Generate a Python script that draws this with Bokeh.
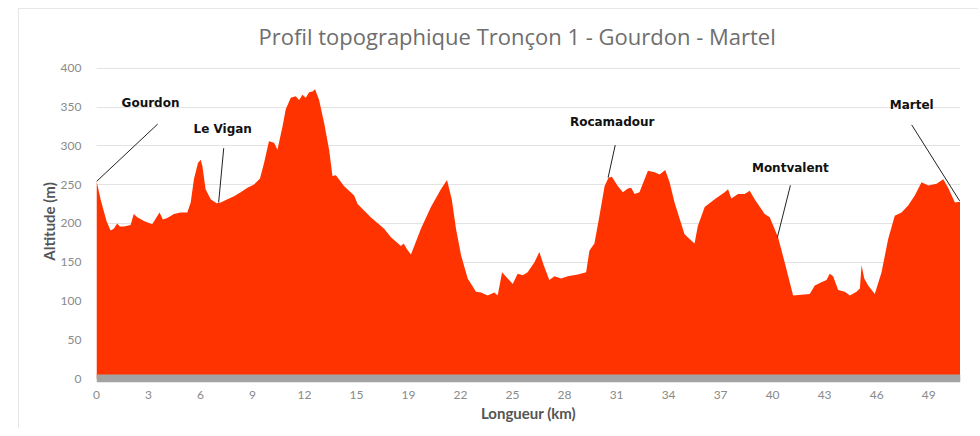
from bokeh.plotting import figure
from bokeh.models import ColumnDataSource, FixedTicker, Range1d, Span, LabelSet, Title
from bokeh.core.properties import value
from bokeh.embed import file_html
from bokeh.resources import INLINE

# ---- data -------------------------------------------------------------
distance_km = [0.00, 0.24, 0.59, 0.83, 1.02, 1.22, 1.38, 1.61, 2.01, 2.20, 2.41, 2.80, 3.29, 3.72,
               3.92, 4.18, 4.57, 4.97, 5.36, 5.56, 5.75, 5.99, 6.15, 6.25, 6.44, 6.74, 7.09, 7.33,
               7.73, 8.12, 8.51, 8.91, 9.30, 9.65, 9.89, 10.18, 10.48, 10.68, 10.98, 11.17, 11.47,
               11.76, 11.96, 12.16, 12.35, 12.55, 12.75, 12.90, 13.14, 13.44, 13.73, 13.93, 14.13,
               14.62, 15.21, 15.41, 16.19, 16.98, 17.38, 17.97, 18.13, 18.32, 18.56, 19.15, 19.74,
               20.33, 20.69, 20.97, 21.22, 21.52, 21.91, 22.40, 22.70, 23.09, 23.48, 23.68, 23.94,
               24.27, 24.57, 24.86, 25.16, 25.45, 25.85, 26.14, 26.40, 26.73, 27.03, 27.43, 27.82,
               28.41, 28.90, 29.10, 29.39, 29.69, 29.99, 30.22, 30.42, 30.78, 31.07, 31.37, 31.56,
               31.76, 32.05, 32.55, 32.94, 33.24, 33.57, 33.83, 34.12, 34.71, 35.30, 35.50, 35.90,
               36.49, 37.08, 37.28, 37.47, 37.87, 38.26, 38.56, 38.85, 39.44, 39.74, 40.23, 40.62,
               41.12, 41.61, 42.10, 42.40, 42.79, 43.09, 43.28, 43.48, 43.78, 44.17, 44.47, 44.86,
               45.06, 45.16, 45.32, 45.55, 45.94, 46.34, 46.73, 47.12, 47.52, 47.91, 48.30, 48.70,
               49.10, 49.59, 49.98, 50.27, 50.67, 50.97]
altitude_m = [255, 231, 203, 191, 193, 200, 196, 196, 198, 212, 208, 203, 199, 214,
              205, 207, 212, 214, 214, 227, 257, 278, 282, 274, 244, 231, 226, 227,
              231, 235, 240, 246, 250, 258, 278, 306, 304, 295, 325, 347, 362,
              364, 359, 366, 362, 369, 370, 373, 359, 329, 295, 261, 262,
              248, 236, 225, 208, 193, 182, 171, 174, 167, 160, 193, 221,
              244, 256, 231, 193, 159, 129, 112, 111, 107, 111, 107, 137,
              129, 122, 135, 133, 137, 150, 163, 146, 127, 132, 129, 132,
              134, 137, 165, 174, 210, 248, 259, 260, 248, 240, 245, 246,
              238, 240, 268, 266, 263, 269, 253, 227, 186, 174, 197, 221,
              231, 240, 244, 232, 238, 238, 242, 231, 212, 208, 182, 150,
              107, 108, 109, 120, 124, 127, 135, 132, 114, 112, 107, 112,
              116, 146, 129, 120, 109, 137, 180, 210, 214, 223, 236, 253,
              249, 251, 257, 246, 227, 228]

tick_step_km = 3.07
x_tick_labels = ["0", "3", "6", "9", "12", "15", "19", "22", "25", "28", "31",
                 "34", "37", "40", "43", "46", "49"]
y_ticks = [0, 50, 100, 150, 200, 250, 300, 350, 400]

place_names = ["Gourdon", "Le Vigan", "Rocamadour", "Montvalent", "Martel"]
place_label_x = [3.19, 7.45, 30.44, 40.96, 48.12]
place_label_y = [355, 322, 331, 272, 353]
leader_x0 = [0.00, 7.51, 30.62, 40.96, 48.12]
leader_y0 = [254, 297, 301, 249, 327]
leader_x1 = [3.61, 7.21, 30.20, 40.19, 50.95]
leader_y1 = [328, 227, 259, 182, 229]

# ---- figure -----------------------------------------------------------
p = figure(width=960, height=420, output_backend="svg", toolbar_location=None,
           x_range=Range1d(0, 51.0), y_range=Range1d(-5.1, 410),
           min_border_left=77, min_border_right=19, min_border_top=48, min_border_bottom=47,
           background_fill_color="white", border_fill_color="white", outline_line_color=None)
p.margin = (8, 0, 0, 18)
p.styles = {"border-top": "1px solid #e6e6e6", "border-left": "1px solid #e6e6e6"}

p.title = Title(text="Profil topographique Tronçon 1 - Gourdon - Martel", align="left",
                offset=162, text_font="Open Sans", text_font_size="22px",
                text_font_style="normal", text_color="#6e6e6e", standoff=19)

src = ColumnDataSource(dict(x=distance_km, y=altitude_m))
p.varea(x="x", y1=0, y2="y", source=src, fill_color="#ff3300", fill_alpha=1.0)

p.add_layout(Span(location=0, dimension="width", line_color="#a3a3a3", line_width=8))

# leaders & labels
lsrc = ColumnDataSource(dict(x0=leader_x0, y0=leader_y0, x1=leader_x1, y1=leader_y1))
p.segment(x0="x0", y0="y0", x1="x1", y1="y1", source=lsrc, line_color="#222222", line_width=1)

nsrc = ColumnDataSource(dict(x=place_label_x, y=place_label_y, t=place_names))
p.add_layout(LabelSet(x="x", y="y", text="t", source=nsrc, text_align="center",
                      text_baseline="middle", text_font=value("DejaVu Sans"),
                      text_font_style="bold", text_font_size="12px", text_color="#111111"))

# axes
p.xaxis.ticker = FixedTicker(ticks=[i * tick_step_km for i in range(len(x_tick_labels))])
p.xaxis.major_label_overrides = {i * tick_step_km: lab for i, lab in enumerate(x_tick_labels)}
p.yaxis.ticker = FixedTicker(ticks=y_ticks)

for ax in (p.xaxis[0], p.yaxis[0]):
    ax.axis_line_color = None
    ax.major_tick_line_color = None
    ax.minor_tick_line_color = None
    ax.major_label_text_font = "Lato"
    ax.major_label_text_font_size = "12px"
    ax.major_label_text_color = "#8a8a8a"
    ax.axis_label_text_font = "Lato"
    ax.axis_label_text_font_style = "bold"
    ax.axis_label_text_font_size = "15px"
    ax.axis_label_text_color = "#555555"

p.xaxis.axis_label = "Longueur (km)"
p.yaxis.axis_label = "Altitude (m)"
p.xaxis.major_label_standoff = 2
p.xaxis.axis_label_standoff = 2
p.yaxis.major_label_standoff = 9
p.yaxis.axis_label_standoff = 0

p.xgrid.grid_line_color = None
p.ygrid.grid_line_color = "#e3e3e3"
p.ygrid.grid_line_width = 1

open("out.html", "w").write(file_html(p, INLINE))
